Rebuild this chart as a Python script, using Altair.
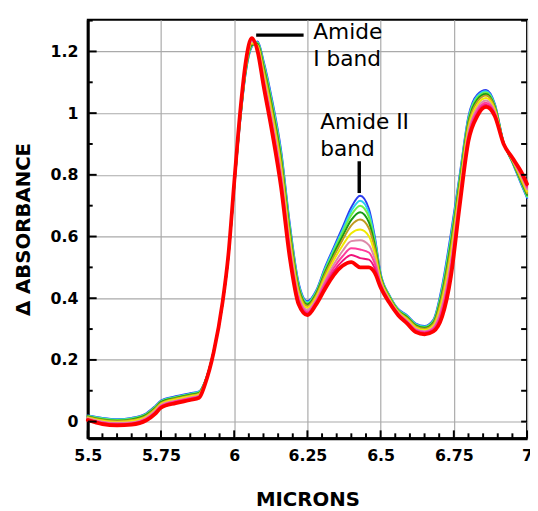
import altair as alt
import pandas as pd

# ---------------- data ----------------
microns = [5.50, 5.55, 5.60, 5.65, 5.70, 5.73, 5.75, 5.80, 5.85, 5.88,
           5.90, 5.93, 5.96, 5.98, 6.00, 6.02, 6.04, 6.06, 6.08, 6.10,
           6.13, 6.16, 6.19, 6.22, 6.25, 6.28, 6.31, 6.34, 6.37, 6.40,
           6.43, 6.46, 6.48, 6.50, 6.53, 6.56, 6.59, 6.62, 6.65, 6.68,
           6.71, 6.74, 6.77, 6.80, 6.83, 6.86, 6.89, 6.92, 6.95, 6.98, 7.00]

s1 = [.020, .012, .008, .012, .027, .050, .068, .082, .092, .098, .130, .230, .380, .530, .755, .970, 1.135, 1.215, 1.232, 1.170,
      1.040, .880, .640, .450, .390, .425, .500, .565, .630, .695, .732, .690, .600, .480, .410, .365, .345, .318, .310, .330,
      .440, .610, .800, .990, 1.060, 1.075, 1.030, .905, .840, .770, .725]
s2 = [.019, .011, .007, .011, .025, .048, .066, .080, .090, .097, .129, .230, .380, .531, .756, .972, 1.137, 1.217, 1.230, 1.164,
      1.033, .872, .632, .445, .387, .422, .495, .559, .621, .683, .716, .677, .592, .477, .408, .364, .343, .316, .308, .327,
      .433, .600, .793, .984, 1.055, 1.071, 1.027, .905, .841, .773, .728]
s3 = [.018, .009, .005, .009, .024, .047, .065, .079, .089, .095, .129, .229, .381, .531, .758, .974, 1.140, 1.219, 1.228, 1.159,
      1.025, .863, .625, .440, .384, .419, .490, .552, .613, .670, .700, .663, .583, .474, .407, .362, .341, .314, .306, .325,
      .426, .590, .786, .979, 1.050, 1.067, 1.024, .904, .842, .776, .731]
s4 = [.017, .007, .003, .007, .022, .044, .063, .077, .087, .093, .128, .229, .381, .532, .760, .977, 1.143, 1.221, 1.225, 1.152,
      1.016, .852, .615, .434, .380, .415, .484, .544, .601, .654, .679, .646, .573, .470, .404, .360, .339, .312, .304, .321,
      .417, .578, .777, .972, 1.044, 1.062, 1.021, .904, .843, .779, .735]
s5 = [.015, .005, .001, .005, .019, .042, .060, .075, .085, .091, .127, .228, .382, .533, .762, .980, 1.147, 1.224, 1.221, 1.144,
      1.005, .840, .604, .427, .375, .410, .477, .535, .589, .636, .655, .627, .561, .465, .402, .358, .336, .309, .301, .317,
      .407, .564, .767, .964, 1.037, 1.057, 1.017, .903, .845, .783, .740]
s6 = [.013, .003, -.001, .002, .016, .038, .057, .072, .082, .088, .125, .228, .382, .535, .764, .984, 1.151, 1.228, 1.217, 1.132,
      .991, .824, .588, .417, .369, .404, .467, .523, .571, .611, .623, .601, .545, .459, .398, .356, .332, .305, .297, .312,
      .393, .544, .753, .952, 1.027, 1.049, 1.011, .903, .847, .789, .746]
s7 = [.011, .000, -.004, -.002, .013, .035, .054, .068, .078, .085, .124, .227, .383, .536, .767, .989, 1.157, 1.232, 1.212, 1.120,
      .975, .806, .572, .407, .362, .397, .457, .509, .553, .585, .588, .572, .527, .452, .395, .353, .328, .301, .293, .306,
      .378, .523, .738, .940, 1.017, 1.041, 1.005, .902, .849, .795, .753]
s8 = [.009, -.003, -.007, -.005, .010, .031, .051, .066, .076, .082, .123, .226, .384, .538, .770, .993, 1.161, 1.236, 1.208, 1.110,
      .961, .790, .558, .398, .356, .391, .448, .498, .536, .562, .558, .548, .512, .446, .391, .350, .325, .297, .290, .302,
      .365, .505, .725, .930, 1.008, 1.034, 1.000, .901, .851, .800, .759]
s9 = [.007, -.005, -.009, -.007, .007, .028, .048, .063, .073, .080, .121, .226, .384, .539, .772, .996, 1.165, 1.239, 1.204, 1.100,
      .949, .776, .544, .389, .351, .386, .439, .487, .521, .540, .530, .525, .497, .441, .388, .348, .322, .294, .287, .297,
      .353, .488, .713, .920, .999, 1.027, .995, .901, .853, .805, .764]
s10 = [.005, -.008, -.012, -.010, .004, .025, .045, .060, .070, .077, .120, .225, .385, .540, .775, 1.000, 1.170, 1.243, 1.200, 1.090,
       .935, .760, .530, .380, .345, .380, .430, .475, .505, .517, .500, .500, .482, .435, .385, .345, .318, .290, .283, .292,
       .340, .470, .700, .910, .990, 1.020, .990, .900, .855, .810, .770]

series_names = ["s1", "s2", "s3", "s4", "s5", "s6", "s7", "s8", "s9", "s10"]
series_values = [s1, s2, s3, s4, s5, s6, s7, s8, s9, s10]

x_major = [5.5, 5.75, 6.0, 6.25, 6.5, 6.75, 7.0]
x_minor = [5.55, 5.6, 5.65, 5.7, 5.8, 5.85, 5.9, 5.95, 6.05, 6.1, 6.15, 6.2,
           6.3, 6.35, 6.4, 6.45, 6.55, 6.6, 6.65, 6.7, 6.8, 6.85, 6.9, 6.95]
y_major = [0.0, 0.2, 0.4, 0.6, 0.8, 1.0, 1.2]
y_minor = [0.1, 0.3, 0.5, 0.7, 0.9, 1.1, 1.3]

# annotations (data coordinates)
note_text = ["Amide", "I band", "Amide II", "band"]
note_x = [6.27, 6.27, 6.294, 6.294]
note_y = [1.240, 1.154, 0.949, 0.860]
amide1_line = {"x": [6.075], "x2": [6.237], "y": [1.253]}
amide2_line = {"x": [6.427], "y": [0.844], "y2": [0.741]}

# ---------------- styling ----------------
colors = ["#2a3cf0", "#2ad0f0", "#6ef046", "#169a16", "#c09a22",
          "#f0ea00", "#dc8aa8", "#ff3c9c", "#ee137a", "#ff0000"]
widths = [2, 2, 2, 2, 2, 2, 2, 2, 2, 3.8]
W, H = 446, 425
FONT = "DejaVu Sans"

df = pd.DataFrame({"micron": microns, **dict(zip(series_names, series_values))})

xs = alt.Scale(domain=[5.5, 7.0], nice=False, zero=False)
ys = alt.Scale(domain=[-0.054, 1.303], nice=False, zero=False)

x_axis = alt.Axis(values=x_major, labelExpr="'' + datum.value", grid=True, ticks=False,
                  gridColor="#aaaaaa", gridWidth=1.2,
                  domain=True, domainColor="black", domainWidth=3,
                  labelFont=FONT, labelFontWeight="bold", labelFontSize=16,
                  labelColor="black", labelPadding=10, labelFlush=False,
                  labelOverlap=False,
                  title="MICRONS", titleFont=FONT, titleFontSize=20,
                  titleFontWeight="bold", titleColor="black", titlePadding=26)
y_axis = alt.Axis(values=y_major, labelExpr="'' + datum.value", grid=True, ticks=False,
                  gridColor="#aaaaaa", gridWidth=1.2,
                  domain=True, domainColor="black", domainWidth=3,
                  labelFont=FONT, labelFontWeight="bold", labelFontSize=16,
                  labelColor="black", labelPadding=10, labelFlush=False,
                  labelOverlap=False,
                  title="Δ ABSORBANCE", titleFont=FONT, titleFontSize=20,
                  titleFontWeight="bold", titleColor="black", titlePadding=17)


def X(field):
    return alt.X(field, scale=xs, axis=x_axis)


def Y(field):
    return alt.Y(field, scale=ys, axis=y_axis)


base = alt.Chart(df)
layers = []
for name, col, wd in zip(series_names, colors, widths):
    layers.append(
        base.mark_line(color=col, strokeWidth=wd, interpolate="monotone",
                       strokeCap="round", strokeJoin="round").encode(
            x=X("micron:Q"), y=Y(f"{name}:Q"))
    )

# inside tick marks
xt_major = pd.DataFrame({"v": x_major})
xt_minor = pd.DataFrame({"v": x_minor})
yt_major = pd.DataFrame({"v": y_major})
yt_minor = pd.DataFrame({"v": y_minor})
yt_all = pd.DataFrame({"v": y_major + y_minor})

tick_style = dict(color="black", strokeWidth=2)
layers += [
    alt.Chart(xt_major).mark_rule(**tick_style).encode(
        x=X("v:Q"), y=alt.value(H), y2=alt.value(H - 8)),
    alt.Chart(xt_minor).mark_rule(**tick_style).encode(
        x=X("v:Q"), y=alt.value(H), y2=alt.value(H - 5)),
    alt.Chart(yt_major).mark_rule(**tick_style).encode(
        y=Y("v:Q"), x=alt.value(0), x2=alt.value(9)),
    alt.Chart(yt_minor).mark_rule(**tick_style).encode(
        y=Y("v:Q"), x=alt.value(0), x2=alt.value(5)),
    alt.Chart(yt_all).mark_rule(**tick_style).encode(
        y=Y("v:Q"), x=alt.value(W), x2=alt.value(W - 6)),
]

# annotations
notes = pd.DataFrame({"t": note_text, "x": note_x, "y": note_y})
layers += [
    alt.Chart(notes).mark_text(font=FONT, fontSize=22, color="black",
                               align="left", baseline="alphabetic").encode(
        x=X("x:Q"), y=Y("y:Q"), text="t:N"),
    alt.Chart(pd.DataFrame(amide1_line)).mark_rule(color="black", strokeWidth=3.5).encode(
        x=X("x:Q"), x2="x2:Q", y=Y("y:Q")),
    alt.Chart(pd.DataFrame(amide2_line)).mark_rule(color="black", strokeWidth=3.5).encode(
        x=X("x:Q"), y=Y("y:Q"), y2="y2:Q"),
]

chart = alt.layer(*layers).properties(
    width=W, height=H,
    autosize=alt.AutoSizeParams(type="none"),
    padding={"left": 81, "top": 8, "right": 3, "bottom": 70},
).configure(background="white").configure_view(stroke="black", strokeWidth=2)

chart.save("out.html", embed_options={"renderer": "svg", "actions": False})
